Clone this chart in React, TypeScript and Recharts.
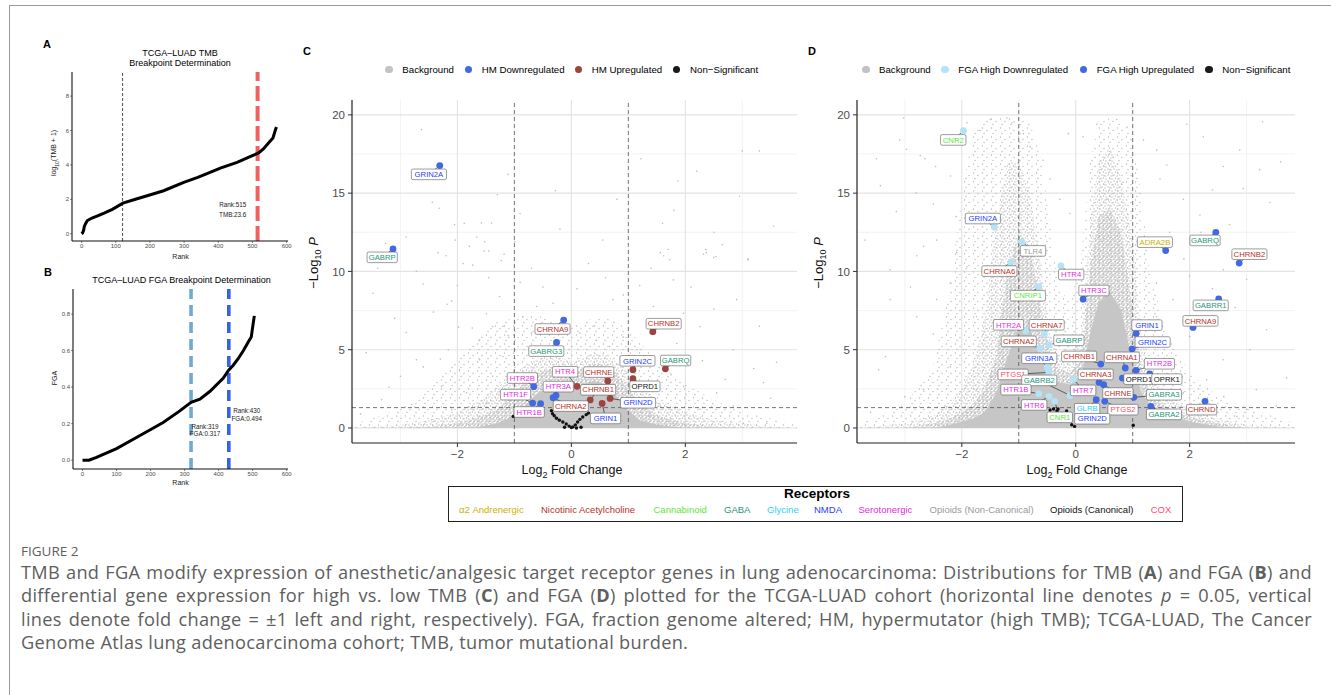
import React from 'react';
import { ComposedChart, Line, Area, Scatter, XAxis, YAxis, CartesianGrid, ReferenceLine } from 'recharts';

const FONT = '"Liberation Sans", Arial, Helvetica, sans-serif';

// ---- panel A: TMB breakpoint curve
const tmbRank = [0, 3, 6, 8, 12, 17, 25, 32, 45, 66, 90, 121, 160, 192, 240, 299, 340, 367, 406, 455, 493, 518, 532, 547, 560, 566, 570];
const tmbLog = [0, 0.05, 0.2, 0.42, 0.6, 0.77, 0.86, 0.92, 1.02, 1.2, 1.42, 1.78, 2.02, 2.21, 2.5, 2.99, 3.28, 3.49, 3.82, 4.15, 4.48, 4.7, 4.93, 5.28, 5.57, 5.96, 6.2];
const tmbCuts = [120, 515];
const tmbNote = ['Rank:515', 'TMB:23.6'];

// ---- panel B: FGA breakpoint curve
const fgaRank = [0, 19, 41, 100, 169, 237, 286, 319, 345, 374, 414, 430, 443, 458, 473, 488, 496, 501, 505];
const fgaVal = [0, 0, 0.016, 0.064, 0.135, 0.206, 0.27, 0.317, 0.334, 0.376, 0.45, 0.494, 0.52, 0.557, 0.6, 0.65, 0.674, 0.74, 0.79];
const fgaCuts = [319, 430];
const fgaNoteLow = ['Rank:319', 'FGA:0.317'];
const fgaNoteHigh = ['Rank:430', 'FGA:0.494'];

// ---- panel C: HM volcano
const geneC = ['GRIN2A', 'GABRP', 'CHRNA9', 'GABRG3', 'CHRNB2', 'GABRQ', 'GRIN2C', 'OPRD1', 'CHRNE', 'CHRNB1', 'HTR4', 'HTR3A', 'CHRNA2', 'HTR2B', 'HTR1F', 'HTR1B', 'GRIN1', 'GRIN2D'];
const lfcC = [-2.31, -3.13, -0.135, -0.26, 1.43, 1.65, 1.08, 1.08, 0.64, 0.33, 0.1, -0.27, -0.32, -0.66, -0.68, -0.54, 0.54, 0.68];
const nlpC = [16.76, 11.44, 6.89, 5.46, 6.15, 3.78, 3.72, 3.15, 3.0, 1.79, 2.66, 2.08, 1.93, 2.64, 1.59, 1.55, 1.57, 1.89];
const dirC = ['down', 'down', 'down', 'down', 'up', 'up', 'up', 'up', 'up', 'up', 'up', 'down', 'down', 'down', 'down', 'down', 'up', 'up'];
const famC = ['NMDA', 'GABA', 'nACh', 'GABA', 'nACh', 'GABA', 'NMDA', 'OpC', 'nACh', 'nACh', '5HT', '5HT', 'nACh', '5HT', '5HT', '5HT', 'NMDA', 'NMDA'];
const labXC = [-2.5, -3.32, -0.33, -0.44, 1.62, 1.83, 1.16, 1.29, 0.48, 0.47, -0.11, -0.23, -0.01, -0.86, -0.98, -0.74, 0.6, 1.17];
const labYC = [16.2, 10.9, 6.32, 4.91, 6.66, 4.31, 4.29, 2.66, 3.57, 2.44, 3.59, 2.64, 1.4, 3.19, 2.13, 1.02, 0.61, 1.61];
const nsC: [number, number][] = [[-1.02, 0.74], [-0.33, 0.91], [-0.3, 0.78], [-0.26, 0.62], [-0.21, 0.5], [-0.15, 0.38], [-0.09, 0.25], [-0.04, 0.12], [0, 0.03], [0.03, 0.07], [0.07, 0.2], [0.11, 0.38], [0.15, 0.55], [0.2, 0.7], [0.26, 0.85], [0.09, 0], [0.17, 0.05], [-0.12, 0.05], [-0.35, 1.1], [0.3, 0.95]];
const bgC: [number, number][] = [
  [-2.63, 19.06], [-1.11, 16.2], [-0.28, 15.17], [1.22, 17.2], [1.87, 15.78], [3.0, 17.7], [3.3, 17.7], [-2.44, 14.42], [-2.32, 14.04], [-2.05, 12.99],
  [-1.88, 13.08], [-1.58, 13.1], [-1.4, 13.1], [-2.9, 12.2], [-3.26, 11.8], [-2.04, 12.0], [-1.66, 12.2], [-1.52, 11.9], [-1.79, 11.6], [-1.53, 11.3],
  [-1.45, 11.3], [-1.18, 11.1], [-0.99, 11.9], [0.55, 12.0], [1.6, 13.08], [1.8, 13.9], [2.5, 12.5], [2.65, 11.7], [2.36, 11.4], [2.32, 11.1],
  [2.5, 10.9], [1.56, 11.2], [1.7, 11.4], [1.62, 11.0], [3.1, 10.8], [-2.34, 11.2], [-2.2, 11.0], [-3.48, 8.6], [-2.72, 10.0], [-1.9, 10.5],
  [-1.73, 10.4], [-1.23, 10.7], [-2.1, 8.1], [-2.18, 7.9], [-2.42, 7.4], [-1.98, 6.44], [-1.74, 6.38], [-1.61, 5.63], [-1.49, 7.3], [-1.26, 8.4],
  [-1.38, 6.48], [-1.11, 5.9], [-2.16, 5.0], [-2.72, 4.36], [-3.0, 3.3], [-3.33, 1.8], [-2.28, 2.66], [-1.96, 3.72], [-1.61, 4.36], [-1.38, 3.3],
  [-1.2, 4.57], [-1.84, 2.24], [-1.49, 1.6], [-1.14, 2.45], [-2.1, 1.17], [-2.45, 0.53], [-1.61, 0.74], [-1.26, 0.53], [0.91, 8.5], [0.73, 8.2],
  [1.03, 7.55], [1.44, 7.76], [1.79, 9.46], [1.73, 10.74], [2.37, 11.2], [2.54, 10.95], [3.1, 10.74], [1.97, 7.33], [1.38, 6.05], [1.15, 5.0],
  [1.85, 5.4], [2.26, 6.47], [2.84, 5.0], [3.37, 2.9], [2.55, 2.24], [1.97, 2.66], [1.56, 1.4], [2.26, 1.2], [2.84, 1.4], [3.43, 0.3],
  [3.02, 0.3], [1.38, 0.74], [1.79, 0.3], [0.67, 5.2], [0.44, 5.6], [0.91, 5.8], [0.15, 6.06], [0.38, 6.5], [-0.61, 7.76], [-0.32, 7.97],
  [-0.85, 7.1], [-0.7, 6.06], [-1.2, 6.5], [-2.6, 9.2], [-3.1, 7.0], [-2.9, 6.1], [-3.6, 4.8], [-3.2, 2.6], [-3.7, 0.9], [-2.8, 1.5],
  [-2.6, 3.9], [-2.3, 4.4], [-2.0, 9.1], [-1.45, 9.6], [-0.9, 9.3], [-0.5, 9.0], [0.1, 8.9], [0.6, 9.6], [1.2, 9.1], [1.4, 10.2],
  [2.1, 9.0], [2.5, 7.6], [2.9, 8.2], [3.3, 6.5], [3.6, 4.2], [3.5, 1.9], [3.2, 3.8], [2.7, 3.1], [2.3, 4.3], [1.75, 3.4],
  [1.3, 4.6], [-0.2, 12.7], [0.3, 10.5], [-0.7, 10.2], [1.0, 11.6], [0.8, 14.6], [-1.3, 14.9], [2.2, 16.4], [-3.4, 10.2], [-0.9, 13.7],
  [3.55, 12.9], [2.95, 14.8],
];
// upper edges of the background cloud, sparse -> dense
const cloudXC = [-3.85, -3.0, -2.5, -2.0, -1.6, -1.3, -1.0, -0.8, -0.6, -0.4, -0.2, 0, 0.2, 0.4, 0.6, 0.8, 1.0, 1.2, 1.5, 2.0, 2.5, 3.0, 3.5, 3.96];
const haloC = [0.2, 1.2, 2.5, 4.5, 6, 6.8, 7, 7.2, 7.2, 7, 6.8, 6.5, 6.8, 7, 7, 6.8, 6.2, 5.5, 4.2, 2.8, 1.8, 1.0, 0.6, 0.2];
const midC = [0, 0.2, 0.5, 1.0, 1.8, 2.6, 3.5, 4.0, 4.4, 4.7, 4.5, 4.2, 4.5, 4.8, 4.7, 4.2, 3.5, 2.7, 1.8, 1.0, 0.5, 0.3, 0.1, 0];
const denseC = [0, 0, 0.1, 0.3, 0.7, 1.2, 2.2, 3.0, 3.5, 3.8, 3.7, 3.5, 3.8, 4.1, 4.0, 3.4, 2.5, 1.6, 0.8, 0.3, 0.1, 0, 0, 0];
const coreC = [0, 0, 0, 0, 0.1, 0.3, 0.8, 1.5, 2.2, 2.6, 2.6, 2.4, 2.8, 3.0, 2.8, 2.0, 1.1, 0.5, 0.2, 0, 0, 0, 0, 0];

// ---- panel D: FGA volcano
const geneD = ['CNR2', 'GRIN2A', 'TLR4', 'ADRA2B', 'GABRQ', 'CHRNB2', 'CHRNA6', 'HTR4', 'CNRIP1', 'HTR3C', 'GABRR1', 'CHRNA9', 'GRIN1', 'GRIN2C', 'HTR2A', 'CHRNA7', 'GABRP', 'CHRNA2', 'GRIN3A', 'PTGS1', 'CHRNB1', 'CHRNA1', 'HTR2B', 'OPRD1', 'OPRK1', 'GABRB2', 'HTR7', 'CHRNA3', 'CHRNE', 'HTR1B', 'HTR6', 'CNR1', 'GLRB', 'PTGS2', 'GABRA3', 'GABRA2', 'CHRND', 'GRIN2D'];
const lfcD = [-1.97, -1.43, -0.94, 1.58, 2.46, 2.87, -1.14, -0.26, -0.65, 0.13, 2.51, 2.06, 1.06, 0.99, -0.88, -0.55, -0.47, -0.63, -0.5, -0.47, 0.44, 0.87, 1.06, 0.82, 1.3, -0.1, -0.04, 0.41, 0.49, -0.65, -0.47, -0.37, 0.36, 0.51, 1.02, 1.32, 2.27, 0.28];
const nlpD = [18.99, 12.83, 11.87, 11.33, 12.5, 10.53, 10.59, 10.36, 9.02, 8.23, 8.25, 6.42, 6.04, 5.04, 6.21, 6.0, 5.32, 5.1, 3.87, 3.55, 4.08, 3.83, 3.68, 3.19, 3.46, 2.08, 3.12, 2.91, 2.76, 2.19, 2.02, 1.7, 1.81, 1.7, 1.96, 1.38, 1.7, 0.64];
const dirD = ['down', 'down', 'down', 'up', 'up', 'up', 'down', 'down', 'down', 'up', 'up', 'up', 'up', 'up', 'down', 'down', 'down', 'down', 'down', 'down', 'up', 'up', 'up', 'up', 'up', 'down', 'down', 'up', 'up', 'down', 'down', 'down', 'up', 'up', 'up', 'up', 'up', 'ns'];
const famD = ['CB', 'NMDA', 'OpN', 'A2', 'GABA', 'nACh', 'nACh', '5HT', 'CB', '5HT', 'GABA', 'nACh', 'NMDA', 'NMDA', '5HT', 'nACh', 'GABA', 'nACh', 'NMDA', 'COX', 'nACh', 'nACh', '5HT', 'OpC', 'OpC', 'GABA', '5HT', 'nACh', 'nACh', '5HT', '5HT', 'CB', 'Gly', 'COX', 'GABA', 'GABA', 'nACh', 'NMDA'];
const labXD = [-2.15, -1.63, -0.75, 1.39, 2.27, 3.05, -1.34, -0.08, -0.84, 0.32, 2.37, 2.19, 1.25, 1.35, -1.18, -0.51, -0.12, -1.0, -0.64, -1.1, 0.06, 0.81, 1.47, 1.11, 1.6, -0.64, 0.13, 0.35, 0.74, -1.05, -0.73, -0.28, 0.2, 0.83, 1.55, 1.55, 2.21, 0.29];
const labYD = [18.4, 13.38, 11.31, 11.87, 11.98, 11.1, 10.02, 9.8, 8.45, 8.78, 7.83, 6.84, 6.57, 5.49, 6.59, 6.59, 5.6, 5.53, 4.45, 3.42, 4.57, 4.51, 4.1, 3.12, 3.12, 3.04, 2.4, 3.42, 2.23, 2.45, 1.47, 0.68, 1.23, 1.17, 2.12, 0.87, 1.17, 0.59];
const nsD: [number, number][] = [[-0.39, 1.21], [-0.33, 1.08], [-0.31, 1.21], [-0.16, 1.08], [-0.07, 0.21], [-0.02, 0.1], [0.25, 0.79], [0.32, 0.75], [1.01, 0.17], [-0.45, 1.15], [0.22, 0.6], [0.3, 0.45]];
const bgD: [number, number][] = [
  [-3.43, 15.48], [-3.15, 13.82], [-3.02, 19.8], [-3.09, 18.4], [-2.97, 17.8], [-2.73, 17.4], [-2.65, 17.2], [-2.46, 16.7], [-2.2, 16.1], [-1.91, 19.5],
  [-1.68, 19.0], [-1.5, 19.7], [-1.21, 19.8], [-1.12, 19.5], [-0.92, 18.8], [-0.8, 17.97], [-0.57, 17.1], [-0.45, 15.9], [-0.28, 14.6], [-0.1, 13.7],
  [-0.13, 18.8], [0.13, 18.6], [0.37, 19.4], [0.72, 19.7], [0.9, 19.2], [1.19, 18.4], [1.42, 17.75], [1.95, 19.4], [2.24, 18.6], [2.59, 16.7],
  [2.88, 17.75], [3.28, 19.56], [3.23, 16.5], [3.41, 14.4], [2.94, 15.3], [2.18, 13.6], [1.89, 14.6], [1.48, 15.9], [1.65, 12.5], [0.83, 15.7],
  [0.54, 14.6], [-2.44, 12.0], [-2.67, 11.6], [-2.09, 11.2], [-2.79, 11.0], [-3.26, 10.1], [-3.46, 3.72], [-3.34, 4.57], [-3.26, 8.2], [-2.79, 7.1],
  [-2.44, 8.2], [-2.2, 9.25], [-1.91, 10.3], [-1.74, 7.1], [-1.97, 5.0], [-2.2, 3.9], [-2.67, 2.45], [-1.74, 2.45], [-1.5, 3.3], [1.36, 6.27],
  [1.71, 8.2], [1.42, 9.25], [2.0, 9.7], [2.59, 10.1], [3.29, 11.0], [3.35, 6.27], [3.06, 5.0], [2.59, 4.36], [2.3, 3.08], [3.17, 2.45],
  [3.52, 1.4], [2.83, 0.74], [1.89, 2.24], [1.71, 4.15], [2.0, 5.85], [1.42, 7.1], [-2.9, 9.0], [-2.5, 6.0], [-3.0, 2.0], [-3.6, 1.0],
  [-2.3, 1.4], [-1.9, 0.8], [2.2, 1.0], [2.6, 2.0], [3.0, 1.2], [3.7, 3.2], [2.8, 7.7], [2.4, 8.9], [3.0, 9.5], [1.9, 10.8],
  [2.2, 12.5], [2.7, 13.0], [3.6, 17.0], [1.6, 16.8], [2.4, 15.2], [-3.7, 12.0], [-3.5, 17.2], [-2.5, 14.3], [-2.1, 13.5], [-2.8, 15.0],
];
const cloudXD = [-3.85, -3.0, -2.5, -2.2, -2.0, -1.8, -1.6, -1.4, -1.2, -1.0, -0.8, -0.6, -0.45, -0.3, -0.1, 0.1, 0.25, 0.4, 0.6, 0.8, 1.0, 1.15, 1.3, 1.6, 2.0, 2.5, 3.0, 3.85];
const haloD = [0.2, 1.5, 4, 9, 15, 19, 19.8, 19.9, 19.9, 19.8, 19.5, 17, 13, 9, 8, 11, 17, 19.5, 19.8, 19.5, 18.5, 15, 10, 6, 3.5, 2, 1.3, 0.3];
const midD = [0, 0.3, 0.8, 1.5, 2.5, 4, 7, 13, 17, 17, 15, 10, 6, 4.5, 4.5, 6, 13, 17, 18, 16, 12, 6, 3.5, 2, 1.2, 0.6, 0.2, 0];
const denseD = [0, 0, 0.3, 0.6, 1.0, 1.5, 2.5, 4.5, 10, 12.5, 11.5, 7.5, 4.8, 3.8, 3.5, 4.3, 10, 13.5, 14, 12.5, 7.5, 3.8, 2.2, 1.3, 0.7, 0.3, 0, 0];
const coreD = [0, 0, 0, 0.2, 0.4, 0.6, 1.0, 2.2, 4.5, 6.5, 6.3, 4.3, 3.3, 2.9, 2.8, 3.3, 6, 8, 8.7, 7.5, 4.2, 2.3, 1.5, 0.9, 0.4, 0.1, 0, 0];

// ---- receptor legend
const receptorNames = ['α2 Andrenergic', 'Nicotinic Acetylcholine', 'Cannabinoid', 'GABA', 'Glycine', 'NMDA', 'Serotonergic', 'Opioids (Non-Canonical)', 'Opioids (Canonical)', 'COX'];
const receptorKeys = ['A2', 'nACh', 'CB', 'GABA', 'Gly', 'NMDA', '5HT', 'OpN', 'OpC', 'COX'];

const FAM_COLOR: Record<string, string> = {
  A2: '#c9b300', nACh: '#b83227', CB: '#5ee83a', GABA: '#25967a', Gly: '#2fd0ef',
  NMDA: '#1f3cff', '5HT': '#e62be6', OpN: '#9a9a9a', OpC: '#111111', COX: '#ff4d6a',
};

const BG_GREY = '#bdbdbd';

const Txt = ({ x, y, size, children, anchor = 'middle', bold = false, color = '#000', rotate = false, font = FONT }: any) => (
  <div
    style={{
      position: 'absolute', left: x, top: y, fontSize: size, fontFamily: font, color,
      fontWeight: bold ? 700 : 400, whiteSpace: 'nowrap', lineHeight: 1,
      transform: `translate(${anchor === 'middle' ? '-50%' : anchor === 'end' ? '-100%' : '0'}, -50%)${rotate ? ' rotate(-90deg)' : ''}`,
    }}
  >
    {children}
  </div>
);

const axisTick = (size: number) => ({ fontSize: size, fill: '#4d4d4d', fontFamily: FONT });

function CurvePanel({ top, height, yw, xs, ys, yDomain, yTicks, fmt, cuts }: any) {
  const data = xs.map((x: number, i: number) => ({ x, y: ys[i] }));
  return (
    <div style={{ position: 'absolute', left: 20, top }}>
      <ComposedChart width={280} height={height} data={data} margin={{ top: 0, right: 12, bottom: 0, left: 0 }}>
        <XAxis type="number" dataKey="x" domain={[-28, 604]} allowDataOverflow ticks={[0, 100, 200, 300, 400, 500, 600]} interval={0}
          tick={axisTick(6)} tickSize={2} tickMargin={1} height={22} axisLine={{ stroke: '#111', strokeWidth: 1.1 }} tickLine={{ stroke: '#333', strokeWidth: 0.6 }} />
        <YAxis type="number" domain={yDomain} allowDataOverflow ticks={yTicks} interval={0} tickFormatter={fmt} width={yw}
          tick={axisTick(6)} tickSize={2} tickMargin={1} axisLine={{ stroke: '#111', strokeWidth: 1.1 }} tickLine={{ stroke: '#333', strokeWidth: 0.6 }} />
        {cuts}
        <Line dataKey="y" type="linear" stroke="#000" strokeWidth={3} dot={false} activeDot={false} isAnimationActive={false} />
      </ComposedChart>
    </div>
  );
}

const LabelBox = (p: any) => {
  const { cx, cy, payload } = p;
  const w = payload.gene.length * 4.85 + 6;
  return (
    <g>
      <rect x={cx - w / 2} y={cy - 5.3} width={w} height={10.6} rx={1.6} fill="#fff" stroke="#5a5a5a" strokeWidth={0.6} />
      <text x={cx} y={cy + 2.7} textAnchor="middle" fontSize={7.7} fontFamily={FONT} fill={FAM_COLOR[payload.fam]}>{payload.gene}</text>
    </g>
  );
};

const LAYER_FILL = ['halo', 'mid', 'dense', 'core'];

function Volcano(props: any) {
  const { id, left, width, xDomain, cloudX, layers, bg, ns, genes, lfc, nlp, dir, fam, labX, labY, downColor, upColor } = props;
  const cloud = cloudX.map((x: number, i: number) => {
    const row: any = { x };
    layers.forEach((l: number[], k: number) => { row[LAYER_FILL[k]] = l[i]; });
    return row;
  });
  const bgPts = bg.map(([x, y]: number[]) => ({ x, y }));
  const nsPts = ns.map(([x, y]: number[]) => ({ x, y }));
  const pts = genes.map((g: string, i: number) => ({ x: lfc[i], y: nlp[i], dir: dir[i] }));
  const labs = genes.map((g: string, i: number) => ({ x: labX[i], y: labY[i], gene: g, fam: fam[i] }));
  const ptColor = (d: string) => (d === 'down' ? downColor : d === 'up' ? upColor : '#111');
  const fills: Record<string, string> = { halo: `url(#${id}-halo)`, mid: `url(#${id}-mid)`, dense: `url(#${id}-dense)`, core: '#c6c6c6' };
  return (
    <div style={{ position: 'absolute', left, top: 90 }}>
      <ComposedChart width={width} height={383} data={cloud} margin={{ top: 10, right: 0, bottom: 0, left: 0 }}>
        <defs>
          <pattern id={`${id}-halo`} width="9" height="9" patternUnits="userSpaceOnUse">
            <circle cx="1.5" cy="2" r="0.65" fill="#b6b6b6" />
            <circle cx="6" cy="4.5" r="0.65" fill="#b6b6b6" />
            <circle cx="3" cy="7.5" r="0.65" fill="#b6b6b6" />
          </pattern>
          <pattern id={`${id}-mid`} width="6" height="6" patternUnits="userSpaceOnUse">
            <circle cx="1" cy="1" r="0.7" fill="#b8b8b8" />
            <circle cx="4" cy="2" r="0.7" fill="#b8b8b8" />
            <circle cx="2.5" cy="4" r="0.7" fill="#b8b8b8" />
            <circle cx="5" cy="5" r="0.7" fill="#b8b8b8" />
          </pattern>
          <pattern id={`${id}-dense`} width="4" height="4" patternUnits="userSpaceOnUse">
            <circle cx="1" cy="1" r="0.8" fill="#bababa" />
            <circle cx="3" cy="2" r="0.8" fill="#bababa" />
            <circle cx="2" cy="3.4" r="0.8" fill="#bababa" />
          </pattern>
        </defs>
        <CartesianGrid verticalValues={[-3, -1, 1, 3]} horizontalValues={[2.5, 7.5, 12.5, 17.5]} stroke="#f0f0f0" strokeWidth={0.8} />
        <CartesianGrid verticalValues={[-2, 0, 2]} horizontalValues={[0, 5, 10, 15, 20]} stroke="#e3e3e3" strokeWidth={1.1} />
        <XAxis type="number" dataKey="x" domain={xDomain} allowDataOverflow ticks={[-2, 0, 2]} interval={0} tickFormatter={(v: number) => (v < 0 ? `\u2212${-v}` : `${v}`)}
          tick={axisTick(11.5)} tickSize={4} tickMargin={3} height={30} axisLine={{ stroke: '#222', strokeWidth: 1.2 }} tickLine={{ stroke: '#333' }} />
        <YAxis type="number" domain={[-0.96, 20.95]} allowDataOverflow ticks={[0, 5, 10, 15, 20]} interval={0} width={56}
          tick={axisTick(11.5)} tickSize={4} tickMargin={3} axisLine={{ stroke: '#222', strokeWidth: 1.2 }} tickLine={{ stroke: '#333' }} />
        {LAYER_FILL.slice(0, layers.length).map((k) => (
          <Area key={k} dataKey={k} type="linear" baseValue={0} stroke="none" fill={fills[k]} fillOpacity={1} dot={false} activeDot={false} isAnimationActive={false} />
        ))}
        <Scatter data={bgPts} dataKey="y" isAnimationActive={false} shape={(p: any) => <circle cx={p.cx} cy={p.cy} r={0.8} fill={BG_GREY} />} />
        <ReferenceLine x={-1} stroke="#555" strokeDasharray="4 3" strokeWidth={0.8} />
        <ReferenceLine x={1} stroke="#555" strokeDasharray="4 3" strokeWidth={0.8} />
        <ReferenceLine y={1.3} stroke="#555" strokeDasharray="4 3" strokeWidth={0.8} />
        <Scatter data={nsPts} dataKey="y" isAnimationActive={false} shape={(p: any) => <circle cx={p.cx} cy={p.cy} r={1.7} fill="#111" />} />
        {genes.map((g: string, i: number) => (
          <ReferenceLine key={g} segment={[{ x: lfc[i], y: nlp[i] }, { x: labX[i], y: labY[i] }]} stroke="#111" strokeWidth={0.6} />
        ))}
        <Scatter data={pts} dataKey="y" isAnimationActive={false}
          shape={(p: any) => <circle cx={p.cx} cy={p.cy} r={p.payload.dir === 'ns' ? 1.8 : 3.4} fill={ptColor(p.payload.dir)} />} />
        <Scatter data={labs} dataKey="y" isAnimationActive={false} shape={LabelBox} />
      </ComposedChart>
    </div>
  );
}

const LegendRow = ({ items }: any) => (
  <>
    {items.map((it: any) => (
      <React.Fragment key={it.text}>
        <div style={{ position: 'absolute', left: it.cx - 3.8, top: 69.7 - 3.8, width: 7.6, height: 7.6, borderRadius: '50%', background: it.color }} />
        <Txt x={it.tx} y={70} size={9.7} anchor="start">{it.text}</Txt>
      </React.Fragment>
    ))}
  </>
);

const YLab = ({ x }: any) => (
  <Txt x={x} y={263} size={13} rotate color="#111">
    {'\u2212'}Log<sub style={{ fontSize: 9 }}>10</sub> <i>P</i>
  </Txt>
);

const XLab = ({ x }: any) => (
  <Txt x={x} y={472} size={12.5} color="#111">
    Log<sub style={{ fontSize: 9 }}>2</sub> Fold Change
  </Txt>
);

const CAP_FONT = '"Open Sans", "Noto Sans", sans-serif';
const capLine: React.CSSProperties = {
  position: 'absolute', left: 21, width: 1291, fontFamily: CAP_FONT, fontSize: 18.2, letterSpacing: 0.3,
  color: '#5e5e5e', lineHeight: '22px', whiteSpace: 'nowrap',
};
const capJust: React.CSSProperties = { ...capLine, textAlign: 'justify', textAlignLast: 'justify' };

const receptorX = [459, 541, 653.5, 724, 767, 814, 858.5, 929.6, 1050, 1150.7];

export default function App() {
  return (
    <div style={{ position: 'absolute', left: 0, top: 0, width: 1331, height: 695, background: '#fff', overflow: 'hidden', fontFamily: FONT }}>
      {/* frame */}
      <div style={{ position: 'absolute', left: 9, top: 5, width: 1322, height: 700, borderLeft: '1.5px solid #9a9a9a', borderTop: '1.5px solid #9a9a9a' }} />

      {/* panel A */}
      <Txt x={47} y={44} size={11} bold>A</Txt>
      <Txt x={180} y={52.5} size={9}>TCGA–LUAD TMB</Txt>
      <Txt x={180} y={62.5} size={9}>Breakpoint Determination</Txt>
      <CurvePanel top={72} height={191} yw={52} xs={tmbRank} ys={tmbLog} yDomain={[-0.42, 9.4]} yTicks={[0, 2, 4, 6, 8]} fmt={(v: number) => `${v}`}
        cuts={[
          <ReferenceLine key="a1" x={tmbCuts[0]} stroke="#222" strokeDasharray="3 2" strokeWidth={0.8} />,
          <ReferenceLine key="a2" x={tmbCuts[1]} stroke="#f0625f" strokeDasharray="15 5" strokeWidth={4} />,
        ]} />
      <Txt x={55} y={153} size={7} rotate color="#222">log<sub style={{ fontSize: 5 }}>10</sub>(TMB + 1)</Txt>
      <Txt x={180.5} y={256} size={7} color="#222">Rank</Txt>
      <Txt x={232.7} y={205.3} size={6.3} color="#222">{tmbNote[0]}</Txt>
      <Txt x={232.7} y={215.3} size={6.3} color="#222">{tmbNote[1]}</Txt>

      {/* panel B */}
      <Txt x={48} y={272} size={11} bold>B</Txt>
      <Txt x={181.5} y={280} size={9}>TCGA–LUAD FGA Breakpoint Determination</Txt>
      <CurvePanel top={289} height={202} yw={53} xs={fgaRank} ys={fgaVal} yDomain={[-0.048, 0.937]} yTicks={[0, 0.2, 0.4, 0.6, 0.8]} fmt={(v: number) => v.toFixed(1)}
        cuts={[
          <ReferenceLine key="b1" x={fgaCuts[0]} stroke="#6fa9d4" strokeDasharray="11 6" strokeWidth={3.6} />,
          <ReferenceLine key="b2" x={fgaCuts[1]} stroke="#3463e6" strokeDasharray="11 6" strokeWidth={3.6} />,
        ]} />
      <Txt x={53.5} y={378} size={7} rotate color="#222">FGA</Txt>
      <Txt x={180.5} y={481.7} size={7} color="#222">Rank</Txt>
      <Txt x={205} y={427.3} size={6.3} color="#222">{fgaNoteLow[0]}</Txt>
      <Txt x={205} y={434.3} size={6.3} color="#222">{fgaNoteLow[1]}</Txt>
      <Txt x={246.7} y={411} size={6.3} color="#222">{fgaNoteHigh[0]}</Txt>
      <Txt x={246.7} y={419.3} size={6.3} color="#222">{fgaNoteHigh[1]}</Txt>

      {/* panel C */}
      <Txt x={307} y={51} size={11} bold>C</Txt>
      <LegendRow items={[
        { cx: 389, tx: 402.3, color: '#c2c2c2', text: 'Background' },
        { cx: 468.3, tx: 481.7, color: '#4169e1', text: 'HM Downregulated' },
        { cx: 578.7, tx: 591.7, color: '#9e4440', text: 'HM Upregulated' },
        { cx: 676.7, tx: 690, color: '#1a1a1a', text: 'Non\u2212Significant' },
      ]} />
      <Volcano id="c" left={296} width={501} xDomain={[-3.85, 3.96]} cloudX={cloudXC} layers={[haloC, midC, denseC, coreC]}
        bg={bgC} ns={nsC} genes={geneC} lfc={lfcC} nlp={nlpC} dir={dirC} fam={famC} labX={labXC} labY={labYC}
        downColor="#4169e1" upColor="#9e4440" />
      <YLab x={315} />
      <XLab x={572} />

      {/* panel D */}
      <Txt x={812} y={51} size={11} bold>D</Txt>
      <LegendRow items={[
        { cx: 866, tx: 879, color: '#c2c2c2', text: 'Background' },
        { cx: 945, tx: 958.3, color: '#b4e2f7', text: 'FGA High Downregulated' },
        { cx: 1083.3, tx: 1096.7, color: '#4169e1', text: 'FGA High Upregulated' },
        { cx: 1209, tx: 1222.3, color: '#1a1a1a', text: 'Non\u2212Significant' },
      ]} />
      <Volcano id="d" left={801} width={494} xDomain={[-3.84, 3.85]} cloudX={cloudXD} layers={[haloD, midD, denseD, coreD]}
        bg={bgD} ns={nsD} genes={geneD} lfc={lfcD} nlp={nlpD} dir={dirD} fam={famD} labX={labXD} labY={labYD}
        downColor="#b4e2f7" upColor="#4169e1" />
      <YLab x={820} />
      <XLab x={1077} />

      {/* receptor legend */}
      <div style={{ position: 'absolute', left: 448, top: 486, width: 735, height: 35.5, border: '1.3px solid #222', boxSizing: 'border-box' }} />
      <Txt x={817} y={494} size={13.5} bold>Receptors</Txt>
      {receptorNames.map((n, i) => (
        <Txt key={n} x={receptorX[i]} y={509.5} size={9.5} anchor="start" color={FAM_COLOR[receptorKeys[i]]}>{n}</Txt>
      ))}

      {/* caption */}
      <div style={{ position: 'absolute', left: 21, top: 543, fontFamily: CAP_FONT, fontSize: 13.5, color: '#5e5e5e', lineHeight: '16px' }}>FIGURE 2</div>
      <div style={{ ...capJust, top: 560.5 }}>
        TMB and FGA modify expression of anesthetic/analgesic target receptor genes in lung adenocarcinoma: Distributions for TMB (<b>A</b>) and FGA (<b>B</b>) and
      </div>
      <div style={{ ...capJust, top: 584 }}>
        differential gene expression for high vs. low TMB (<b>C</b>) and FGA (<b>D</b>) plotted for the TCGA-LUAD cohort (horizontal line denotes <i>p</i> = 0.05, vertical
      </div>
      <div style={{ ...capJust, top: 607.5 }}>
        lines denote fold change = ±1 left and right, respectively). FGA, fraction genome altered; HM, hypermutator (high TMB); TCGA-LUAD, The Cancer
      </div>
      <div style={{ ...capLine, top: 631 }}>
        Genome Atlas lung adenocarcinoma cohort; TMB, tumor mutational burden.
      </div>
    </div>
  );
}
